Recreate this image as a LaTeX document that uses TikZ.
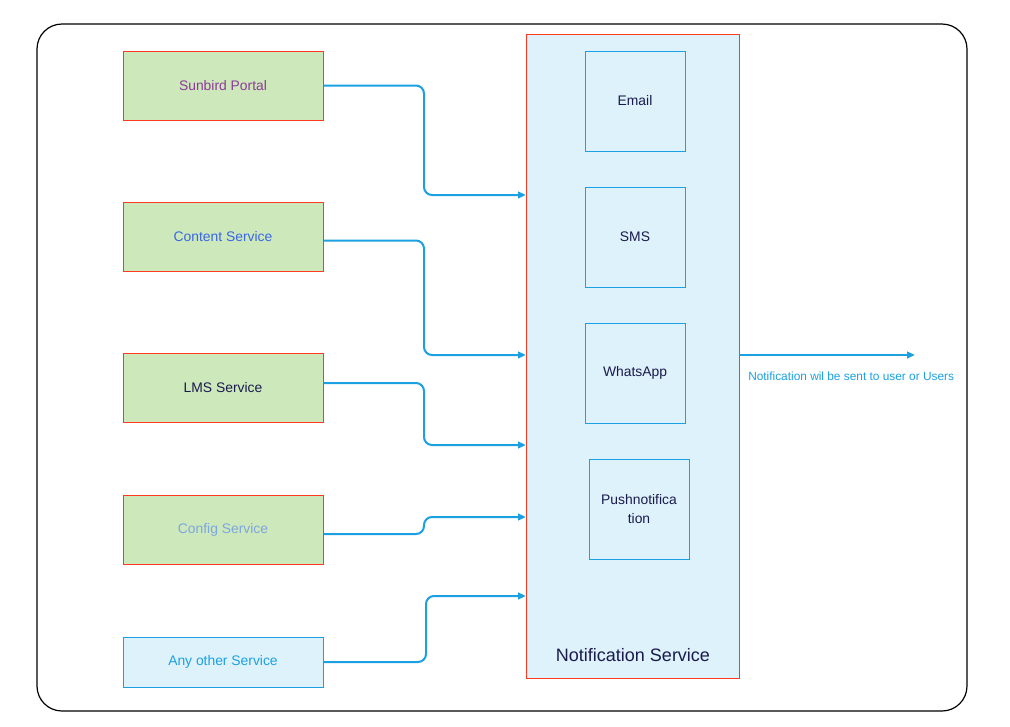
\documentclass[tikz,border=0pt]{standalone}
\usepackage{fontspec}
\setmainfont{Liberation Sans}
\usetikzlibrary{arrows.meta}
\definecolor{gfill}{HTML}{CDE8BB}
\definecolor{rborder}{HTML}{FF3B1F}
\definecolor{bfill}{HTML}{DEF2FB}
\definecolor{bline}{HTML}{1BA1E2}
\definecolor{navy}{HTML}{1A1A4E}
\definecolor{purp}{HTML}{8E3A99}
\definecolor{cblue}{HTML}{3A66E6}
\definecolor{lblue}{HTML}{7EA6E0}
\tikzset{
  src/.style={draw=rborder, fill=gfill, line width=0.75pt, minimum width=150pt, minimum height=51.75pt, inner sep=0pt, font=\fontsize{10.4}{13}\selectfont},
  chan/.style={draw=bline, fill=bfill, line width=0.75pt, minimum width=75pt, minimum height=75pt, inner sep=0pt, font=\fontsize{10.4}{14}\selectfont, text=navy, align=center},
  conn/.style={draw=bline, line width=1.5pt, rounded corners=6pt, -{Triangle[length=6pt,width=5pt]}}
}
\begin{document}
\begin{tikzpicture}[x=0.75pt,y=-0.75pt]
\useasboundingbox (0,0) rectangle (1010,726);
\fill[white] (0,0) rectangle (1010,726);
\draw[black, line width=0.9pt, rounded corners=25*0.75pt] (37,24) rectangle (967,711);
% notification service container
\node[draw=rborder, fill=bfill, line width=0.75pt, minimum width=159.75pt, minimum height=483pt, inner sep=0pt] (ns) at (632.5,356) {};
\node[font=\fontsize{13.5}{16}\selectfont, text=navy] (nslabel) at (633,655) {Notification Service};
% channels
\node[chan] (email) at (635,101) {Email};
\node[chan] (sms) at (635,237) {SMS};
\node[chan] (wa) at (635,373) {WhatsApp};
\node[chan] (push) at (639,509) {Pushnotifica\\tion};
% sources
\node[src, text=purp] (sun) at (223,85.5) {Sunbird Portal};
\node[src, text=cblue] (content) at (223,236.5) {Content Service};
\node[src, text=navy] (lms) at (223,387.5) {LMS Service};
\node[src, text=lblue] (config) at (223,529.5) {Config Service};
\node[draw=bline, fill=bfill, line width=0.75pt, minimum width=150pt, minimum height=37.5pt, inner sep=0pt, font=\fontsize{10.4}{13}\selectfont, text=bline] (other) at (223,662) {Any other Service};
% coordinates
\coordinate (t1) at (526,195);
\coordinate (t2) at (526,355);
\coordinate (t3) at (526,445);
\coordinate (t4) at (526,517);
\coordinate (t5) at (526,596);
\coordinate (out) at (915,355);
\coordinate (outs) at (739,355);
\draw[conn] (sun.east) -- (424,85.5) -- (424,195) -- (t1);
\draw[conn] (content.east |- 0,240.5) -- (424,240.5) -- (424,355) -- (t2);
\draw[conn] (lms.east |- 0,383) -- (424,383) -- (424,445) -- (t3);
\draw[conn] (config.east |- 0,534) -- (424,534) -- (424,517) -- (t4);
\draw[conn] (other.east) -- (426,662) -- (426,596) -- (t5);
\draw[conn] (outs) -- (out);
\node[font=\fontsize{8.9}{10}\selectfont, text=bline, anchor=west, inner sep=0pt] (lbl) at (748,376) {Notification wil be sent to user or Users};
\end{tikzpicture}
\end{document}
